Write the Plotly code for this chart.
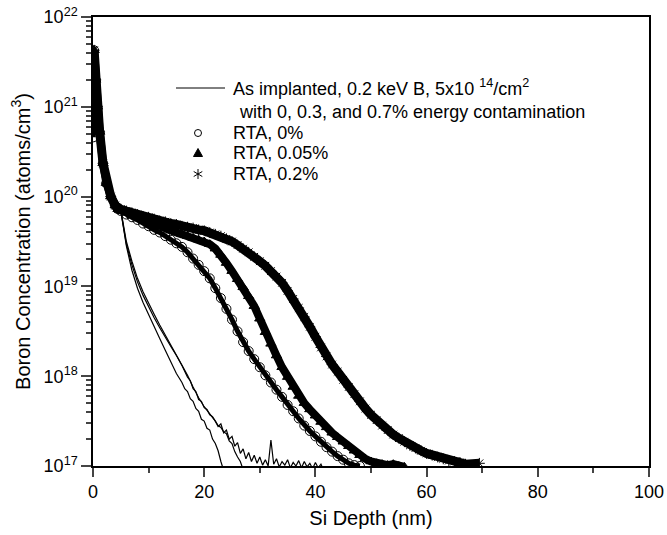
import plotly.graph_objects as go

# ---- data (depth in nm, log10 of concentration in atoms/cm^3) ----
surface_depth = [0.2, 0.5, 0.8, 1.2, 1.8, 2.4, 3.2, 4.0, 4.5]
surface_log = [21.63, 21.30, 21.00, 20.72, 20.37, 20.15, 20.00, 19.90, 19.86]

# As implanted, 0 / 0.3 / 0.7 % energy contamination
impl0_depth = surface_depth + [5, 5.5, 6, 7, 8, 9, 10, 11, 12, 13, 14, 15, 16, 16.5, 17, 17.5, 18, 18.5, 19, 19.5, 20, 20.5, 21, 21.5, 22, 22.5, 23, 23.5]
impl0_log = surface_log + [19.84, 19.62, 19.45, 19.18, 18.98, 18.82, 18.68, 18.55, 18.42, 18.29, 18.16, 18.03, 17.93, 17.86, 17.83, 17.75, 17.72, 17.64, 17.61, 17.52, 17.50, 17.42, 17.40, 17.30, 17.25, 17.17, 17.05, 16.95]

impl3_depth = surface_depth + [5, 5.5, 6, 7, 8, 9, 10, 11, 12, 13, 14, 15, 16, 17, 17.5, 18, 18.5, 19, 19.5, 20, 20.5, 21, 21.5, 22, 22.5, 23, 23.5, 24, 24.5, 25, 25.5, 26, 26.5, 27]
impl3_log = surface_log + [19.84, 19.63, 19.47, 19.24, 19.05, 18.90, 18.77, 18.65, 18.54, 18.43, 18.33, 18.23, 18.12, 17.99, 17.95, 17.86, 17.83, 17.74, 17.72, 17.65, 17.63, 17.57, 17.55, 17.50, 17.45, 17.43, 17.38, 17.36, 17.28, 17.25, 17.16, 17.10, 17.05, 16.96]

impl7_depth = surface_depth + [5, 5.5, 6, 7, 8, 9, 10, 11, 12, 13, 14, 15, 16, 17, 18, 19, 20, 21, 22, 22.5, 23, 23.5, 24, 24.5, 25, 25.5, 26, 26.5, 27, 27.5, 28, 28.5, 29, 29.5, 30, 30.5, 31, 31.5, 32, 32.5, 33, 33.5, 34, 34.5, 35, 35.5, 36, 36.5, 37, 37.5, 38, 38.5, 39, 39.5, 40, 40.5, 41, 41.5]
impl7_log = surface_log + [19.85, 19.65, 19.50, 19.28, 19.09, 18.94, 18.81, 18.69, 18.57, 18.46, 18.35, 18.24, 18.13, 18.01, 17.88, 17.76, 17.66, 17.58, 17.50, 17.44, 17.47, 17.37, 17.40, 17.30, 17.33, 17.22, 17.26, 17.14, 17.19, 17.08, 17.15, 17.05, 17.12, 17.03, 17.10, 17.01, 17.07, 17.00, 17.29, 17.02, 17.08, 16.99, 17.05, 17.01, 17.07, 16.98, 17.04, 17.00, 17.06, 16.98, 17.05, 16.99, 17.03, 16.97, 17.04, 16.98, 17.02, 16.95]

# RTA, 0 %
rta0_depth = [0.05] + surface_depth + [5, 6, 7, 8, 9, 10, 11, 12, 13, 14, 15, 16, 17, 18, 19, 20, 21, 22, 23, 24, 25, 26, 27, 28, 29, 30, 31, 32, 33, 34, 35, 36, 37, 38, 39, 40, 41, 42, 43, 44, 45, 46, 47, 48]
rta0_log = [20.66] + surface_log + [19.84, 19.80, 19.77, 19.74, 19.70, 19.67, 19.63, 19.60, 19.56, 19.52, 19.48, 19.44, 19.38, 19.31, 19.24, 19.17, 19.09, 18.98, 18.87, 18.75, 18.63, 18.50, 18.38, 18.28, 18.19, 18.10, 18.01, 17.93, 17.85, 17.77, 17.68, 17.61, 17.53, 17.45, 17.39, 17.33, 17.27, 17.21, 17.16, 17.11, 17.07, 17.03, 17.01, 17.00]

# RTA, 0.05 %
rta05_depth = surface_depth + [5, 6, 7, 8, 9, 10, 11, 12, 13, 14, 15, 16, 17, 18, 19, 20, 21, 22, 23, 24, 25, 26, 27, 28, 29, 30, 31, 32, 33, 34, 35, 36, 37, 38, 39, 40, 41, 42, 43, 44, 45, 46, 47, 48, 49, 50, 51, 52, 53, 54, 55, 56]
rta05_log = surface_log + [19.85, 19.82, 19.79, 19.77, 19.74, 19.72, 19.70, 19.67, 19.65, 19.62, 19.60, 19.58, 19.56, 19.54, 19.52, 19.50, 19.47, 19.42, 19.35, 19.26, 19.17, 19.08, 18.99, 18.89, 18.78, 18.64, 18.49, 18.36, 18.23, 18.10, 17.99, 17.88, 17.78, 17.70, 17.63, 17.56, 17.49, 17.43, 17.37, 17.32, 17.27, 17.22, 17.17, 17.12, 17.08, 17.05, 17.03, 17.02, 17.01, 17.02, 17.00, 16.99]

# RTA, 0.2 %
rta2_depth = surface_depth + [5, 6, 7, 8, 9, 10, 11, 12, 13, 14, 15, 16, 17, 18, 19, 20, 21, 22, 23, 24, 25, 26, 27, 28, 29, 30, 31, 32, 33, 34, 35, 36, 37, 38, 39, 40, 41, 42, 43, 44, 45, 46, 47, 48, 49, 50, 51, 52, 53, 54, 55, 56, 57, 58, 59, 60, 61, 62, 63, 64, 65, 66, 67, 69.5]
rta2_log = surface_log + [19.86, 19.84, 19.82, 19.80, 19.78, 19.77, 19.75, 19.73, 19.72, 19.70, 19.69, 19.67, 19.66, 19.65, 19.63, 19.62, 19.60, 19.58, 19.56, 19.53, 19.50, 19.46, 19.42, 19.38, 19.33, 19.28, 19.23, 19.17, 19.11, 19.04, 18.95, 18.86, 18.76, 18.66, 18.55, 18.44, 18.32, 18.22, 18.13, 18.05, 17.96, 17.88, 17.80, 17.72, 17.64, 17.57, 17.51, 17.45, 17.40, 17.35, 17.31, 17.27, 17.23, 17.20, 17.17, 17.14, 17.12, 17.10, 17.08, 17.06, 17.05, 17.04, 17.02, 17.03]

y_tick_exponents = [17, 18, 19, 20, 21, 22]
x_tick_values = [0, 20, 40, 60, 80, 100]
x_minor_values = [10, 30, 50, 70, 90]

legend_line1 = "As implanted, 0.2 keV B, 5x10 <sup>14</sup>/cm<sup>2</sup>"
legend_line2 = "with 0, 0.3, and 0.7% energy contamination"
rta_names = ["RTA, 0%", "RTA, 0.05%", "RTA, 0.2%"]


def conc(logs):
    return [10.0 ** v for v in logs]


FONT = "Arial, 'Liberation Sans', sans-serif"
fig = go.Figure()

# as-implanted lines
for i, (d, l) in enumerate([(impl0_depth, impl0_log), (impl3_depth, impl3_log), (impl7_depth, impl7_log)]):
    fig.add_trace(go.Scatter(x=d, y=conc(l), mode="lines", line=dict(color="black", width=1.2),
                             name="As implanted", showlegend=False))

# RTA series: dense band + markers
rta = [
    (rta_names[0], rta0_depth, rta0_log, "circle-open", 5, 9),
    (rta_names[1], rta05_depth, rta05_log, "triangle-up", 8, 9),
    (rta_names[2], rta2_depth, rta2_log, "asterisk-open", 9, 9),
]
for name, d, l, sym, lw, ms in rta:
    fig.add_trace(go.Scatter(x=d, y=conc(l), mode="lines", line=dict(color="black", width=lw),
                             showlegend=False, hoverinfo="skip"))
    fig.add_trace(go.Scatter(x=d, y=conc(l), mode="markers", name=name, showlegend=False,
                             marker=dict(symbol=sym, size=ms, color="black",
                                         line=dict(color="black", width=1))))

# ---- legend drawn as in the reference (keys + text in paper coordinates) ----
def px_x(p):
    return (p - 93) / 556.0


def px_y(p):
    return (466 - p) / 449.0


shapes = [
    dict(type="line", xref="paper", yref="paper", x0=px_x(176), x1=px_x(225), y0=px_y(88), y1=px_y(88),
         line=dict(color="black", width=1)),
    dict(type="circle", xref="paper", yref="paper", xsizemode="pixel", ysizemode="pixel",
         xanchor=px_x(198), yanchor=px_y(133), x0=-3.5, x1=3.5, y0=-3.5, y1=3.5,
         line=dict(color="black", width=1)),
    dict(type="path", xref="paper", yref="paper", xsizemode="pixel", ysizemode="pixel",
         xanchor=px_x(198), yanchor=px_y(153), path="M -4.5 -3.5 L 4.5 -3.5 L 0 4.5 Z",
         fillcolor="black", line=dict(color="black", width=1)),
    dict(type="path", xref="paper", yref="paper", xsizemode="pixel", ysizemode="pixel",
         xanchor=px_x(198), yanchor=px_y(174),
         path="M 0 -5 L 0 5 M -4.3 -2.5 L 4.3 2.5 M -4.3 2.5 L 4.3 -2.5",
         line=dict(color="black", width=1)),
]
annotations = [
    dict(text=legend_line1, x=px_x(231), y=px_y(88)),
    dict(text=legend_line2, x=px_x(237), y=px_y(112)),
    dict(text=rta_names[0], x=px_x(231), y=px_y(133)),
    dict(text=rta_names[1], x=px_x(231), y=px_y(153)),
    dict(text=rta_names[2], x=px_x(231), y=px_y(174)),
]
for a in annotations:
    a.update(xref="paper", yref="paper", xanchor="left", yanchor="middle", showarrow=False,
             font=dict(size=18, family=FONT, color="black"))

y_minor = [float(k) * 10.0 ** e for e in y_tick_exponents[:-1] for k in range(2, 10)]

fig.update_layout(
    width=667, height=535,
    margin=dict(l=93, r=18, t=17, b=69),
    paper_bgcolor="white", plot_bgcolor="white",
    font=dict(family=FONT, size=18, color="black"),
    showlegend=False,
    shapes=shapes, annotations=annotations,
)
fig.update_xaxes(
    range=[0, 100], tickvals=x_tick_values, ticks="outside", ticklen=9, tickwidth=1.5,
    minor=dict(tickvals=x_minor_values, ticks="outside", ticklen=5, tickwidth=1.5, showgrid=False),
    showline=True, linecolor="black", linewidth=1.5, mirror=True, showgrid=False, zeroline=False,
    automargin=False, ticklabeloverflow="allow",
    tickfont=dict(size=18), title=dict(text="Si Depth (nm)", font=dict(size=20), standoff=10),
)
fig.update_yaxes(
    type="log", range=[17, 22],
    tickvals=[10.0 ** e for e in y_tick_exponents],
    ticktext=[f"10<sup>{e}</sup>" for e in y_tick_exponents],
    ticks="outside", ticklen=10, tickwidth=1.5,
    minor=dict(tickvals=y_minor, ticks="outside", ticklen=5, tickwidth=1.5, showgrid=False),
    showline=True, linecolor="black", linewidth=1.5, mirror=True, showgrid=False, zeroline=False,
    automargin=False, ticklabeloverflow="allow",
    tickfont=dict(size=18),
    title=dict(text="Boron Concentration (atoms/cm<sup>3</sup>)", font=dict(size=20), standoff=8),
)

# place the figure at the page's top-left corner (no default body margin), no mode bar
fig.write_html("out.html", config={"displayModeBar": False},
               post_script="document.body.style.margin='0';")
